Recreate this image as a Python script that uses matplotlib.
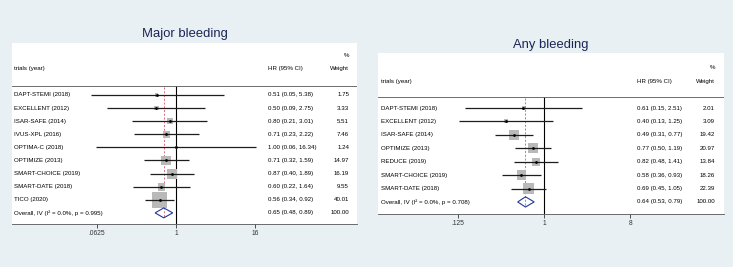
import numpy as np
import matplotlib.pyplot as plt
from matplotlib.patches import Polygon
from matplotlib.transforms import blended_transform_factory

plt.rcParams['font.family'] = ['Liberation Sans', 'DejaVu Sans']

# Datos: sangrado mayor
major_trials = ["DAPT-STEMI (2018)", "EXCELLENT (2012)", "ISAR-SAFE (2014)", "IVUS-XPL (2016)",
                "OPTIMA-C (2018)", "OPTIMIZE (2013)", "SMART-CHOICE (2019)", "SMART-DATE (2018)",
                "TICO (2020)"]
major_hr = [0.51, 0.50, 0.80, 0.71, 1.00, 0.71, 0.87, 0.60, 0.56]
major_lo = [0.05, 0.09, 0.21, 0.23, 0.06, 0.32, 0.40, 0.22, 0.34]
major_hi = [5.38, 2.75, 3.01, 2.22, 16.34, 1.59, 1.89, 1.64, 0.92]
major_w = [1.75, 3.33, 5.51, 7.46, 1.24, 14.97, 16.19, 9.55, 40.01]
major_overall = (0.65, 0.48, 0.89)
major_overall_label = "Overall, IV (I\u00b2 = 0.0%, p = 0.995)"
major_ticks = [0.0625, 1, 16]
major_ticklabels = [".0625", "1", "16"]

# Datos: cualquier sangrado
any_trials = ["DAPT-STEMI (2018)", "EXCELLENT (2012)", "ISAR-SAFE (2014)", "OPTIMIZE (2013)",
              "REDUCE (2019)", "SMART-CHOICE (2019)", "SMART-DATE (2018)"]
any_hr = [0.61, 0.40, 0.49, 0.77, 0.82, 0.58, 0.69]
any_lo = [0.15, 0.13, 0.31, 0.50, 0.48, 0.36, 0.45]
any_hi = [2.51, 1.25, 0.77, 1.19, 1.41, 0.93, 1.05]
any_w = [2.01, 3.09, 19.42, 20.97, 13.84, 18.26, 22.39]
any_overall = (0.64, 0.53, 0.79)
any_overall_label = "Overall, IV (I\u00b2 = 0.0%, p = 0.708)"
any_ticks = [0.125, 1, 8]
any_ticklabels = [".125", "1", "8"]

BG = "#e9f0f4"
TITLE_C = "#1a2656"
FS = 4.4


def forest(ax, trials, hr, lo, hi, w, overall, overall_label, ticks, ticklabels,
           xlim, ylim, sep, box_k, xcols):
    n = len(trials)
    ax.set_xscale("log", base=2)
    ax.set_xlim(*xlim)
    ax.set_ylim(*ylim)
    blend = blended_transform_factory(ax.transAxes, ax.transData)

    x_lab, x_hr, x_w = xcols
    ax.text(x_w, -3.0, "%", transform=blend, ha="right", va="center", fontsize=FS)
    ax.text(x_lab, -2.0, "trials (year)", transform=blend, ha="left", va="center", fontsize=FS)
    ax.text(x_hr, -2.0, "HR (95% CI)", transform=blend, ha="left", va="center", fontsize=FS)
    ax.text(x_w, -2.0, "Weight", transform=blend, ha="right", va="center", fontsize=FS)
    ax.axhline(sep, color="#555555", lw=0.6)

    rows = np.arange(n)
    ax.scatter(hr, rows, marker="s", s=np.array(w) * box_k, color="#b9b9b9", lw=0, zorder=2)
    ax.hlines(rows, lo, hi, color="#1e1e1e", lw=0.9, zorder=3)
    ax.scatter(hr, rows, marker="o", s=4, color="black", lw=0, zorder=4)

    for i in range(n):
        ax.text(x_lab, i, trials[i], transform=blend, ha="left", va="center", fontsize=FS)
        ax.text(x_hr, i, f"{hr[i]:.2f} ({lo[i]:.2f}, {hi[i]:.2f})", transform=blend,
                ha="left", va="center", fontsize=FS)
        ax.text(x_w, i, f"{w[i]:.2f}", transform=blend, ha="right", va="center", fontsize=FS)

    est, olo, ohi = overall
    yo = n
    dia = Polygon([(olo, yo), (est, yo - 0.38), (ohi, yo), (est, yo + 0.38)],
                  closed=True, fill=False, edgecolor="#28379a", lw=0.8, zorder=5)
    ax.add_patch(dia)
    ax.text(x_lab, yo, overall_label, transform=blend, ha="left", va="center", fontsize=FS)
    ax.text(x_hr, yo, f"{est:.2f} ({olo:.2f}, {ohi:.2f})", transform=blend,
            ha="left", va="center", fontsize=FS)
    ax.text(x_w, yo, "100.00", transform=blend, ha="right", va="center", fontsize=FS)

    ax.vlines(1, sep, ylim[0], color="black", lw=0.8, zorder=1)
    ax.vlines(est, sep + 0.1, yo + 0.4, color="#d9576a", lw=0.6, linestyles=(0, (2.5, 2)), zorder=1)

    ax.set_xticks(ticks)
    ax.set_xticklabels(ticklabels)
    ax.minorticks_off()
    ax.set_yticks([])
    ax.tick_params(axis="x", length=3, width=0.6, labelsize=4.8, pad=1.5, colors="#333333")
    for s in ["top", "left", "right"]:
        ax.spines[s].set_visible(False)
    ax.spines["bottom"].set_color("#555555")
    ax.spines["bottom"].set_linewidth(0.6)
    ax.set_facecolor("white")


fig = plt.figure(figsize=(7.33, 2.67), dpi=100)
fig.patch.set_facecolor(BG)

ax1 = fig.add_axes([0.0164, 0.161, 0.4707, 0.678])
forest(ax1, major_trials, major_hr, major_lo, major_hi, major_w, major_overall,
       major_overall_label, major_ticks, major_ticklabels,
       xlim=(2 ** -8.30, 2 ** 9.16), ylim=(9.85, -3.97), sep=-0.69, box_k=3.2,
       xcols=(0.006, 0.742, 0.977))

ax2 = fig.add_axes([0.5157, 0.1985, 0.472, 0.603])
forest(ax2, any_trials, any_hr, any_lo, any_hi, any_w, any_overall,
       any_overall_label, any_ticks, any_ticklabels,
       xlim=(2 ** -5.78, 2 ** 6.27), ylim=(7.9, -4.1), sep=-0.82, box_k=2.6,
       xcols=(0.009, 0.749, 0.974))

fig.text(185 / 733, 1 - 34 / 267, "Major bleeding", ha="center", va="center",
         fontsize=9.4, color=TITLE_C)
fig.text(551 / 733, 1 - 45 / 267, "Any bleeding", ha="center", va="center",
         fontsize=9.4, color=TITLE_C)

fig.savefig("out.png", dpi=100, facecolor=BG)
